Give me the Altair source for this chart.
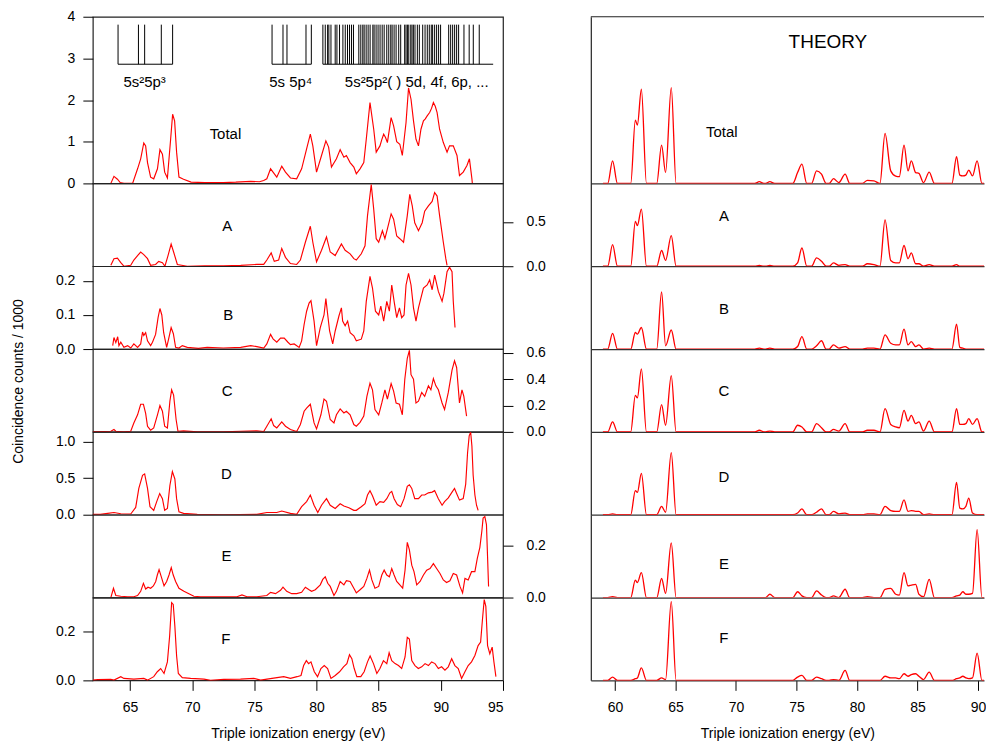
import altair as alt
import pandas as pd

FONT = "Liberation Sans"
RED = "#ff0000"

# ---------------- experimental spectra (energy eV, counts/1000) ----------------
total_xy = [
    (63.45, 0.0), (63.7, 0.17), (63.98, 0.1), (64.2, 0.02), (64.5, 0.0), (65.2, 0.0), (65.6, 0.35),
    (65.85, 0.59), (66.1, 0.97), (66.25, 0.9), (66.4, 0.5), (66.65, 0.15), (66.9, 0.11), (67.2, 0.35),
    (67.4, 0.81), (67.6, 0.7), (67.78, 0.27), (68.0, 0.13), (68.26, 1.06), (68.42, 1.66), (68.58, 1.5),
    (68.74, 0.75), (68.93, 0.15), (69.3, 0.1), (69.9, 0.03), (71.0, 0.02), (72.5, 0.02), (73.5, 0.03),
    (74.7, 0.05), (75.4, 0.04), (75.75, 0.07), (76.0, 0.11), (76.3, 0.35), (76.5, 0.27), (76.8, 0.15),
    (77.2, 0.41), (77.5, 0.27), (77.9, 0.13), (78.4, 0.11), (78.8, 0.35), (79.2, 0.83), (79.5, 1.18),
    (79.7, 0.9), (80.0, 0.27), (80.4, 0.67), (80.75, 1.02), (80.97, 0.87), (81.2, 0.39), (81.6, 0.59),
    (81.9, 0.81), (82.2, 0.63), (82.4, 0.67), (82.7, 0.5), (83.0, 0.39), (83.2, 0.23), (83.5, 0.35),
    (83.8, 0.5), (84.0, 1.06), (84.3, 1.94), (84.6, 1.3), (84.8, 0.75), (85.1, 0.9), (85.25, 1.05),
    (85.4, 1.18), (85.55, 1.1), (85.7, 0.98), (86.0, 1.58), (86.2, 1.38), (86.45, 1.0), (86.7, 0.94),
    (86.9, 0.67), (87.2, 1.46), (87.4, 2.29), (87.6, 2.02), (87.8, 1.5), (88.0, 1.06), (88.2, 0.9),
    (88.4, 1.3), (88.6, 1.5), (88.75, 1.55), (88.9, 1.62), (89.1, 1.7), (89.25, 1.8), (89.4, 1.94),
    (89.55, 1.85), (89.7, 1.7), (89.9, 1.3), (90.2, 0.98), (90.5, 0.75), (90.7, 0.9), (91.0, 0.9),
    (91.3, 0.67), (91.5, 0.19), (91.8, 0.27), (92.1, 0.43), (92.3, 0.59), (92.5, 0.11), (92.55, -0.05),
]
a_xy = [
    (63.45, 0.01), (63.7, 0.085), (63.98, 0.09), (64.25, 0.04), (64.5, 0.0), (65.05, 0.01), (65.3, 0.07),
    (65.6, 0.12), (65.85, 0.16), (66.1, 0.13), (66.4, 0.085), (66.65, 0.01), (67.05, 0.02), (67.3, 0.055),
    (67.6, 0.04), (67.8, 0.0), (68.05, 0.12), (68.3, 0.25), (68.5, 0.16), (68.8, 0.02), (69.6, 0.0),
    (71.0, 0.005), (72.5, 0.005), (73.9, 0.01), (75.2, 0.02), (75.75, 0.02), (76.0, 0.07), (76.35, 0.15),
    (76.6, 0.055), (76.95, 0.07), (77.2, 0.2), (77.5, 0.1), (77.9, 0.03), (78.4, 0.02), (78.7, 0.07),
    (79.1, 0.27), (79.5, 0.45), (79.7, 0.27), (80.0, 0.05), (80.4, 0.18), (80.8, 0.33), (81.1, 0.16),
    (81.5, 0.12), (82.0, 0.25), (82.3, 0.18), (82.7, 0.14), (83.0, 0.085), (83.2, 0.07), (83.6, 0.14),
    (83.9, 0.23), (84.1, 0.57), (84.4, 0.92), (84.6, 0.64), (84.8, 0.31), (85.0, 0.27), (85.3, 0.4),
    (85.5, 0.31), (85.7, 0.42), (86.0, 0.59), (86.2, 0.53), (86.45, 0.34), (86.7, 0.31), (87.0, 0.27),
    (87.3, 0.57), (87.5, 0.81), (87.7, 0.68), (87.9, 0.49), (88.2, 0.4), (88.5, 0.49), (88.7, 0.62),
    (89.0, 0.68), (89.3, 0.73), (89.5, 0.83), (89.7, 0.79), (89.9, 0.57), (90.2, 0.27), (90.4, 0.085),
    (90.5, 0.01),
]
b_xy = [
    (63.6, 0.01), (63.7, 0.034), (63.85, 0.019), (64.0, 0.036), (64.1, 0.01), (64.25, 0.02), (64.5, 0.005),
    (64.8, 0.01), (65.05, 0.003), (65.3, 0.015), (65.6, 0.005), (65.85, 0.015), (66.0, 0.05), (66.1, 0.04),
    (66.25, 0.048), (66.4, 0.024), (66.65, 0.01), (66.8, 0.02), (67.05, 0.043), (67.25, 0.092),
    (67.4, 0.119), (67.55, 0.1), (67.7, 0.048), (67.94, 0.005), (68.1, 0.03), (68.3, 0.063), (68.48, 0.045),
    (68.66, 0.005), (68.93, 0.003), (69.2, 0.01), (69.6, 0.005), (70.5, 0.002), (71.2, 0.005), (72.5, 0.003),
    (73.9, 0.005), (74.7, 0.01), (75.2, 0.007), (75.75, 0.003), (76.0, 0.015), (76.3, 0.043), (76.5, 0.03),
    (76.8, 0.02), (77.1, 0.032), (77.4, 0.032), (77.7, 0.02), (77.9, 0.013), (78.2, 0.015), (78.6, 0.005),
    (78.8, 0.024), (79.0, 0.072), (79.2, 0.111), (79.4, 0.135), (79.55, 0.142), (79.8, 0.082), (80.0, 0.01),
    (80.3, 0.063), (80.6, 0.1), (80.75, 0.148), (80.9, 0.1), (81.05, 0.053), (81.3, 0.015), (81.5, 0.053),
    (81.8, 0.097), (82.0, 0.121), (82.1, 0.082), (82.3, 0.068), (82.5, 0.082), (82.7, 0.048), (83.0, 0.039),
    (83.2, 0.024), (83.6, 0.029), (83.8, 0.053), (84.0, 0.14), (84.3, 0.213), (84.5, 0.179), (84.74, 0.111),
    (85.0, 0.1), (85.17, 0.126), (85.4, 0.082), (85.65, 0.14), (85.86, 0.111), (86.05, 0.188), (86.24, 0.14),
    (86.45, 0.092), (86.67, 0.121), (86.85, 0.092), (87.04, 0.1), (87.2, 0.188), (87.4, 0.222), (87.6, 0.188),
    (87.8, 0.121), (88.0, 0.082), (88.2, 0.121), (88.4, 0.15), (88.6, 0.179), (88.9, 0.188), (89.1, 0.203),
    (89.3, 0.174), (89.5, 0.217), (89.8, 0.169), (90.1, 0.14), (90.25, 0.164), (90.5, 0.227), (90.7, 0.24),
    (90.9, 0.227), (91.0, 0.14), (91.14, 0.063),
]
c_xy = [
    (62.0, 0.0), (63.45, 0.005), (63.7, 0.018), (63.85, 0.005), (64.5, 0.0), (65.05, 0.005), (65.3, 0.068),
    (65.6, 0.13), (65.85, 0.21), (66.07, 0.21), (66.25, 0.14), (66.4, 0.043), (66.65, 0.013), (66.9, 0.03),
    (67.2, 0.13), (67.4, 0.2), (67.6, 0.157), (67.78, 0.043), (68.0, 0.03), (68.2, 0.233), (68.34, 0.32),
    (68.5, 0.28), (68.7, 0.094), (68.85, 0.005), (69.3, 0.008), (70.4, 0.0), (72.5, 0.0), (73.9, 0.005),
    (75.2, 0.008), (75.75, 0.003), (76.0, 0.043), (76.35, 0.1), (76.55, 0.048), (76.8, 0.03), (77.2, 0.076),
    (77.5, 0.043), (77.9, 0.018), (78.4, 0.003), (78.7, 0.056), (79.0, 0.157), (79.2, 0.18), (79.5, 0.21),
    (79.8, 0.068), (80.0, 0.023), (80.35, 0.13), (80.6, 0.25), (80.8, 0.233), (81.1, 0.094), (81.4, 0.068),
    (81.6, 0.13), (81.9, 0.175), (82.2, 0.144), (82.4, 0.157), (82.7, 0.13), (83.0, 0.056), (83.2, 0.043),
    (83.5, 0.073), (83.8, 0.12), (84.05, 0.27), (84.3, 0.37), (84.5, 0.32), (84.7, 0.17), (85.0, 0.13),
    (85.25, 0.22), (85.5, 0.32), (85.7, 0.25), (86.0, 0.367), (86.2, 0.31), (86.4, 0.22), (86.67, 0.21),
    (86.9, 0.13), (87.1, 0.4), (87.3, 0.56), (87.47, 0.62), (87.6, 0.435), (87.8, 0.4), (88.0, 0.22),
    (88.2, 0.233), (88.46, 0.3), (88.7, 0.27), (89.0, 0.35), (89.2, 0.32), (89.4, 0.405), (89.6, 0.35),
    (89.8, 0.32), (90.1, 0.22), (90.3, 0.17), (90.6, 0.3), (90.9, 0.47), (91.1, 0.54), (91.27, 0.49),
    (91.5, 0.22), (91.7, 0.32), (91.85, 0.27), (92.07, 0.12),
]
d_xy = [
    (62.0, 0.005), (62.6, 0.005), (63.2, 0.018), (63.7, 0.03), (64.25, 0.013), (65.05, 0.01), (65.45, 0.1),
    (65.7, 0.36), (66.0, 0.54), (66.17, 0.56), (66.4, 0.36), (66.6, 0.11), (66.9, 0.06), (67.14, 0.18),
    (67.38, 0.29), (67.6, 0.22), (67.78, 0.06), (68.0, 0.085), (68.2, 0.4), (68.4, 0.59), (68.6, 0.49),
    (68.74, 0.22), (68.93, 0.04), (69.3, 0.018), (70.4, 0.005), (72.5, 0.0), (75.2, 0.005), (76.0, 0.03),
    (76.8, 0.03), (77.2, 0.05), (77.9, 0.018), (78.4, 0.005), (78.8, 0.11), (79.2, 0.18), (79.5, 0.27),
    (79.8, 0.13), (80.1, 0.03), (80.4, 0.13), (80.8, 0.22), (81.1, 0.13), (81.5, 0.085), (81.9, 0.15),
    (82.2, 0.12), (82.6, 0.095), (83.0, 0.06), (83.2, 0.06), (83.6, 0.11), (83.9, 0.15), (84.1, 0.27),
    (84.3, 0.33), (84.5, 0.26), (84.8, 0.13), (85.1, 0.18), (85.4, 0.17), (85.65, 0.22), (85.9, 0.3),
    (86.05, 0.32), (86.24, 0.22), (86.5, 0.14), (86.77, 0.11), (87.04, 0.22), (87.3, 0.39), (87.47, 0.41),
    (87.66, 0.36), (87.9, 0.22), (88.2, 0.22), (88.46, 0.27), (88.7, 0.27), (89.0, 0.3), (89.3, 0.31),
    (89.5, 0.33), (89.8, 0.22), (90.1, 0.13), (90.3, 0.18), (90.6, 0.23), (90.9, 0.31), (91.1, 0.36),
    (91.27, 0.29), (91.5, 0.2), (91.8, 0.22), (92.0, 0.42), (92.15, 0.85), (92.28, 1.08), (92.4, 1.13),
    (92.5, 0.94), (92.6, 0.54), (92.74, 0.27), (92.87, 0.13), (93.0, 0.06),
]
e_xy = [
    (63.45, 0.0), (63.66, 0.036), (63.85, 0.008), (64.25, 0.005), (64.8, 0.003), (65.3, 0.003), (65.6, 0.008),
    (65.85, 0.024), (66.07, 0.055), (66.25, 0.033), (66.44, 0.04), (66.65, 0.036), (66.87, 0.045),
    (67.06, 0.062), (67.19, 0.087), (67.33, 0.108), (67.51, 0.08), (67.73, 0.045), (67.94, 0.062),
    (68.13, 0.087), (68.31, 0.116), (68.47, 0.087), (68.66, 0.062), (68.93, 0.036), (69.33, 0.024),
    (69.73, 0.015), (70.13, 0.005), (70.67, 0.003), (71.47, 0.003), (72.54, 0.003), (73.6, 0.003),
    (74.0, 0.01), (74.4, 0.003), (75.2, 0.003), (76.0, 0.008), (76.3, 0.02), (76.7, 0.015), (77.1, 0.028),
    (77.3, 0.04), (77.6, 0.024), (78.0, 0.015), (78.4, 0.015), (78.8, 0.02), (79.1, 0.04), (79.4, 0.03),
    (79.6, 0.024), (79.9, 0.03), (80.3, 0.049), (80.5, 0.07), (80.7, 0.08), (80.9, 0.055), (81.1, 0.043),
    (81.4, 0.008), (81.6, 0.024), (81.9, 0.062), (82.2, 0.049), (82.4, 0.065), (82.7, 0.062), (83.0, 0.036),
    (83.2, 0.018), (83.5, 0.03), (83.8, 0.043), (84.05, 0.074), (84.26, 0.106), (84.45, 0.068), (84.7, 0.036),
    (85.0, 0.043), (85.25, 0.087), (85.44, 0.106), (85.65, 0.087), (85.86, 0.08), (86.05, 0.112),
    (86.24, 0.087), (86.45, 0.062), (86.7, 0.049), (86.93, 0.036), (87.12, 0.106), (87.3, 0.213),
    (87.47, 0.184), (87.66, 0.125), (87.84, 0.1), (88.06, 0.049), (88.33, 0.062), (88.6, 0.087),
    (88.86, 0.106), (89.13, 0.112), (89.4, 0.131), (89.66, 0.112), (89.93, 0.093), (90.2, 0.068),
    (90.46, 0.058), (90.73, 0.065), (91.0, 0.093), (91.27, 0.087), (91.54, 0.043), (91.75, 0.018),
    (91.94, 0.074), (92.2, 0.068), (92.47, 0.1), (92.74, 0.1), (92.93, 0.15), (93.14, 0.194), (93.3, 0.257),
    (93.4, 0.307), (93.54, 0.313), (93.67, 0.282), (93.76, 0.156), (93.84, 0.043),
]
f_xy = [
    (62.0, 0.001), (62.4, 0.003), (63.45, 0.004), (63.7, 0.001), (64.25, 0.015), (64.5, 0.008), (65.3, 0.005),
    (66.1, 0.008), (66.4, 0.001), (66.9, 0.015), (67.19, 0.035), (67.46, 0.048), (67.73, 0.028), (68.0, 0.075),
    (68.18, 0.18), (68.34, 0.315), (68.47, 0.308), (68.6, 0.22), (68.74, 0.1), (68.88, 0.028), (69.2, 0.011),
    (69.87, 0.008), (70.94, 0.005), (71.47, 0.0), (72.54, 0.004), (73.88, 0.005), (74.95, 0.008),
    (75.5, 0.001), (76.02, 0.005), (76.82, 0.011), (77.36, 0.015), (77.9, 0.008), (78.43, 0.015),
    (78.75, 0.02), (78.96, 0.06), (79.18, 0.08), (79.36, 0.068), (79.55, 0.075), (79.82, 0.035),
    (80.08, 0.015), (80.35, 0.048), (80.62, 0.06), (80.89, 0.048), (81.16, 0.008), (81.5, 0.02),
    (81.85, 0.035), (82.17, 0.055), (82.44, 0.068), (82.65, 0.104), (82.84, 0.088), (83.03, 0.048),
    (83.24, 0.015), (83.56, 0.015), (83.83, 0.035), (84.1, 0.075), (84.31, 0.099), (84.58, 0.068),
    (84.85, 0.028), (85.1, 0.048), (85.38, 0.08), (85.65, 0.068), (85.84, 0.112), (86.05, 0.08),
    (86.32, 0.068), (86.59, 0.06), (86.85, 0.048), (87.12, 0.095), (87.3, 0.175), (87.47, 0.168),
    (87.66, 0.08), (87.92, 0.06), (88.19, 0.048), (88.46, 0.055), (88.73, 0.068), (89.0, 0.06),
    (89.26, 0.075), (89.53, 0.068), (89.8, 0.048), (90.06, 0.055), (90.33, 0.041), (90.6, 0.055),
    (90.87, 0.088), (91.13, 0.06), (91.4, 0.048), (91.67, 0.008), (91.94, 0.035), (92.2, 0.06),
    (92.47, 0.075), (92.74, 0.101), (93.0, 0.141), (93.2, 0.155), (93.35, 0.248), (93.49, 0.328),
    (93.62, 0.3), (93.76, 0.141), (93.94, 0.108), (94.13, 0.135), (94.27, 0.075), (94.43, 0.015),
]

# stick spectrum of final states (Total panel, upper part)
stick_group1 = [64.03, 65.67, 66.17, 67.51, 68.42]
stick_group2 = [76.42, 77.3, 77.62, 79.15, 79.58]
stick_group3 = [80.51, 80.7, 80.89, 80.99, 81.16, 81.5, 81.64, 81.85, 82.12, 82.31, 82.49, 82.65, 82.81,
                82.97, 83.4, 83.56, 83.72, 83.83, 83.99, 84.15, 84.31, 84.53, 84.63, 84.79, 84.95, 85.11,
                85.28, 85.44, 85.65, 85.81, 85.97, 86.08, 86.24, 86.4, 86.61, 86.77, 87.09, 87.2, 87.31,
                87.42, 87.58, 87.68, 87.79, 87.92, 88.11, 88.27, 88.54, 88.73, 88.91, 89.07, 89.23, 89.34,
                89.5, 89.66, 89.82, 89.98, 90.63, 90.79, 90.95, 91.11, 91.27, 91.43, 91.86, 92.28, 92.61,
                93.09]
stick_bars = [(64.03, 68.42), (76.42, 79.58), (80.51, 94.21)]
stick_low, stick_high = 2.86, 3.81
group_labels = ["5s²5p³", "5s 5p⁴", "5s²5p²( ) 5d, 4f, 6p, ..."]
group_label_x = [66.17, 77.92, 88.06]
group_label_y = 2.44

# ---------------- theory spectra (common energy grid, arbitrary units) ----------------
theory_x = [59.0, 59.4, 59.8, 60.2, 61.3, 61.68, 61.85, 62.18, 62.6, 63.45, 63.85, 64.18, 64.65, 65.05,
            71.55, 71.93, 72.3, 72.45, 72.8, 73.2, 74.7, 75.09, 75.45, 75.85, 76.25, 76.66, 77.07, 77.45,
            77.7, 78.06, 78.5, 79.02, 79.4, 80.45, 80.86, 81.4, 81.9, 82.32, 82.79, 83.2, 83.5, 83.89,
            84.22, 84.49, 84.85, 85.12, 85.5, 85.97, 86.4, 87.85, 88.23, 88.5, 88.75, 89.0, 89.24, 89.55,
            89.93, 90.33, 90.7]
th_total = [0, 0, 0.27, 0, 0, 0.76, 0.70, 1.13, 0, 0, 0.46, 0.13, 1.15, 0,
            0, 0.02, 0, 0, 0.02, 0, 0, 0.13, 0.23, 0, 0, 0.15, 0.11, 0,
            0, 0.056, 0.01, 0.11, 0, 0, 0.036, 0.03, 0, 0.6, 0.15, 0.087, 0.08, 0.46,
            0.15, 0.27, 0.13, 0.12, 0.01, 0.135, 0, 0, 0.32, 0.1, 0.09, 0.1, 0.16, 0.09,
            0.27, 0, 0]
th_a = [0, 0, 0.26, 0, 0, 0.54, 0.49, 0.69, 0, 0, 0.19, 0.07, 0.37, 0,
        0, 0.01, 0, 0, 0.01, 0, 0, 0.04, 0.22, 0, 0, 0.1, 0.06, 0,
        0, 0.04, 0.01, 0.02, 0, 0, 0.03, 0.02, 0, 0.56, 0.07, 0.04, 0.04, 0.25,
        0.09, 0.16, 0.03, 0.03, 0, 0.02, 0, 0, 0.02, 0, 0, 0, 0, 0,
        0, 0, 0]
th_b = [0, 0, 0.19, 0, 0, 0.2, 0.18, 0.26, 0, 0, 0.69, 0.04, 0.23, 0,
        0, 0.01, 0, 0, 0.01, 0, 0, 0.03, 0.15, 0, 0, 0.04, 0.1, 0,
        0, 0.05, 0.01, 0.03, 0, 0, 0.01, 0.01, 0, 0.17, 0.07, 0.05, 0.05, 0.24,
        0.05, 0.09, 0.03, 0.05, 0, 0.01, 0, 0, 0.3, 0.02, 0.01, 0, 0, 0,
        0, 0, 0]
th_c = [0, 0, 0.12, 0, 0, 0.44, 0.41, 0.76, 0, 0, 0.33, 0.08, 0.68, 0,
        0, 0.02, 0, 0, 0.01, 0, 0, 0.08, 0.06, 0, 0, 0.1, 0.05, 0,
        0, 0.03, 0.01, 0.1, 0, 0, 0.02, 0.02, 0, 0.28, 0.09, 0.06, 0.05, 0.26,
        0.13, 0.2, 0.1, 0.12, 0.01, 0.13, 0, 0, 0.28, 0.09, 0.09, 0.1, 0.16, 0.09,
        0.16, 0, 0]
th_d = [0, 0, 0.01, 0, 0, 0.29, 0.27, 0.5, 0, 0, 0.1, 0.03, 0.75, 0,
        0, 0, 0, 0, 0, 0, 0, 0.02, 0.07, 0, 0, 0.03, 0.07, 0,
        0, 0.04, 0.01, 0.02, 0, 0, 0.01, 0.01, 0, 0.1, 0.05, 0.04, 0.04, 0.18,
        0.04, 0.05, 0.04, 0.04, 0, 0.01, 0, 0, 0.39, 0.08, 0.07, 0.1, 0.2, 0.02,
        0, 0, 0]
th_e = [0, 0, 0.01, 0, 0, 0.21, 0.18, 0.3, 0, 0, 0.23, 0.05, 0.66, 0,
        0, 0, 0, 0, 0.04, 0, 0, 0.07, 0.02, 0, 0, 0.08, 0.03, 0,
        0, 0.02, 0, 0.1, 0, 0, 0.01, 0, 0, 0.1, 0.11, 0.04, 0.03, 0.3,
        0.14, 0.15, 0.16, 0.04, 0.01, 0.22, 0, 0, 0.02, 0.03, 0.07, 0.04, 0.04, 0.05,
        0.82, 0, 0]
th_f = [0, 0, 0.04, 0, 0, 0.02, 0.03, 0.15, 0, 0, 0.03, 0.01, 0.95, 0,
        0, 0, 0, 0, 0, 0, 0, 0.04, 0.06, 0, 0, 0.04, 0.02, 0,
        0, 0.01, 0, 0.12, 0, 0, 0, 0, 0, 0.05, 0.03, 0.03, 0.02, 0.08,
        0.05, 0.07, 0.08, 0.05, 0.01, 0.1, 0, 0, 0.02, 0.03, 0.05, 0.03, 0.02, 0.03,
        0.33, 0, 0]

panel_names = ["Total", "A", "B", "C", "D", "E", "F"]
exp_label_x = [72.67, 72.81, 72.9, 72.8, 72.75, 72.75, 72.7]
exp_label_y = [1.18, 0.455, 0.101, 0.31, 0.56, 0.162, 0.168]
th_label_x = [68.83, 69.0, 69.0, 69.0, 69.0, 69.0, 69.0]
th_label_y = [0.62, 0.61, 0.48, 0.49, 0.46, 0.41, 0.51]

exp_domains = [[0, 4], [0, 0.933], [0, 0.243], [0, 0.63], [0, 1.135], [0, 0.32], [0, 0.336]]
exp_ticks = [[0, 1, 2, 3, 4], [0, 0.5], [0, 0.1, 0.2], [0, 0.2, 0.4, 0.6], [0, 0.5, 1.0], [0, 0.2], [0, 0.2]]
exp_orient = ["left", "right", "left", "right", "left", "right", "left"]
exp_format = [".0f", ".1f", ".1f", ".1f", ".1f", ".1f", ".1f"]

# ---------------- layout constants ----------------
LW, RW = 411, 394
HEIGHTS = [167, 83, 83, 83, 83, 83, 83]
AX = dict(labelFont=FONT, titleFont=FONT, labelColor="#000", titleColor="#000", tickColor="#000",
          titleFontWeight="normal", grid=False)


def x_axis_bottom(values, domain):
    return alt.Axis(values=values, tickSize=10, labelFontSize=14, titleFontSize=14, labelPadding=10,
                    titlePadding=12, title="Triple ionization energy (eV)", domain=domain,
                    domainColor="#333", domainWidth=1.2, **AX)


def exp_panel(i, pairs):
    df = pd.DataFrame(pairs, columns=["E", "v"])
    xaxis = x_axis_bottom([65, 70, 75, 80, 85, 90, 95], False) if i == 6 else None
    ykw = dict(orient=exp_orient[i], values=exp_ticks[i], format=exp_format[i], tickSize=10,
               labelFontSize=14, labelPadding=8 if exp_orient[i] == "left" else 13, domain=False,
               title=None, **AX)
    if i == 2:
        ykw.update(title="Coincidence counts / 1000", titleX=-74, titleY=115, titleAngle=-90,
                   titleAlign="center", titleBaseline="middle", titleFontSize=14)
    x = alt.X("E:Q", scale=alt.Scale(domain=[62, 95], nice=False, zero=False), axis=xaxis)
    y = alt.Y("v:Q", scale=alt.Scale(domain=exp_domains[i], nice=False, zero=False), axis=alt.Axis(**ykw))
    layers = [alt.Chart(df).mark_line(color=RED, strokeWidth=1.15, clip=True).encode(x=x, y=y)]
    lab = pd.DataFrame({"E": [exp_label_x[i]], "v": [exp_label_y[i]], "t": [panel_names[i]]})
    layers.append(alt.Chart(lab).mark_text(font=FONT, fontSize=15, color="#000").encode(x=x, y=y, text="t:N"))
    if i == 0:
        sticks = pd.DataFrame({"E": stick_group1 + stick_group2 + stick_group3})
        sticks["v"] = stick_low
        sticks["v2"] = stick_high
        layers.append(alt.Chart(sticks).mark_rule(color="#000", strokeWidth=1).encode(x=x, y=y, y2="v2:Q"))
        bars = pd.DataFrame(stick_bars, columns=["E", "E2"])
        bars["v"] = stick_low
        layers.append(alt.Chart(bars).mark_rule(color="#000", strokeWidth=1).encode(x=x, x2="E2:Q", y=y))
        gl = pd.DataFrame({"E": group_label_x, "v": [group_label_y] * 3, "t": group_labels})
        layers.append(alt.Chart(gl).mark_text(font=FONT, fontSize=15, color="#000").encode(x=x, y=y, text="t:N"))
    return alt.layer(*layers).properties(width=LW, height=HEIGHTS[i],
                                         view=alt.ViewBackground(stroke="#222", strokeWidth=1.2))


def theory_panel(i, vals):
    df = pd.DataFrame({"E": theory_x, "v": vals})
    if i == 6:
        xaxis = x_axis_bottom([60, 65, 70, 75, 80, 85, 90], True)
    else:
        xaxis = alt.Axis(domain=True, ticks=False, labels=False, title=None, domainColor="#333",
                         domainWidth=1.2, grid=False)
    yaxis = alt.Axis(domain=True, ticks=False, labels=False, title=None, domainColor="#222",
                     domainWidth=1.2, grid=False)
    ydom = [0, 2] if i == 0 else [0, 1]
    x = alt.X("E:Q", scale=alt.Scale(domain=[58, 90.5], nice=False, zero=False), axis=xaxis)
    y = alt.Y("v:Q", scale=alt.Scale(domain=ydom, nice=False, zero=False), axis=yaxis)
    layers = [alt.Chart(df).mark_line(color=RED, strokeWidth=1.3, interpolate="monotone", clip=True)
              .encode(x=x, y=y)]
    lab = pd.DataFrame({"E": [th_label_x[i]], "v": [th_label_y[i]], "t": [panel_names[i]]})
    layers.append(alt.Chart(lab).mark_text(font=FONT, fontSize=15, color="#000").encode(x=x, y=y, text="t:N"))
    if i == 0:
        layers.append(alt.Chart(pd.DataFrame({"k": [0]})).mark_rule(color="#222", strokeWidth=1.2)
                      .encode(x=alt.value(0), x2=alt.value(RW), y=alt.value(0)))
        th = pd.DataFrame({"E": [77.6], "v": [1.70], "t": ["THEORY"]})
        layers.append(alt.Chart(th).mark_text(font=FONT, fontSize=19, color="#000").encode(x=x, y=y, text="t:N"))
    return alt.layer(*layers).properties(width=RW, height=HEIGHTS[i])


exp_series = [total_xy, a_xy, b_xy, c_xy, d_xy, e_xy, f_xy]
th_series = [th_total, th_a, th_b, th_c, th_d, th_e, th_f]

cells = []
for i in range(7):
    cells.append(exp_panel(i, exp_series[i]))
    cells.append(theory_panel(i, th_series[i]))

chart = alt.concat(*cells, columns=2, spacing={"row": 0, "column": 88}, bounds="flush", align="each").properties(
    padding={"left": 3, "top": 0, "right": 0, "bottom": 0}
).configure_view(stroke=None)

chart.save("out.html", embed_options={"renderer": "svg", "actions": False})
